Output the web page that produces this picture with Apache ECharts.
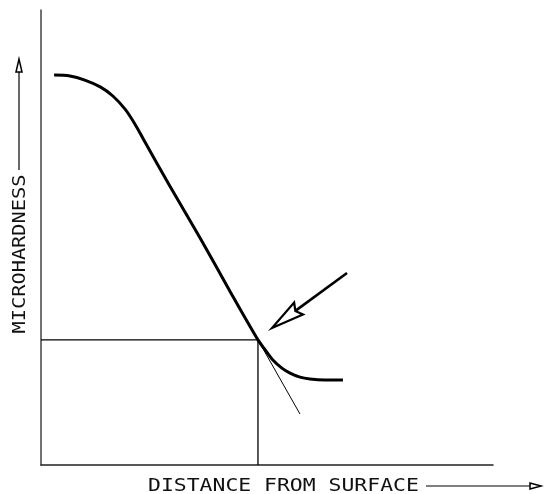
<!DOCTYPE html>
<html><head><meta charset="utf-8">
<script src="https://cdn.jsdelivr.net/npm/echarts@6/dist/echarts.min.js"></script>
<style>html,body{margin:0;padding:0;background:#fff}#c{width:544px;height:494px}</style>
</head><body><div id="c"></div>
<script>
// Hardness profile (arbitrary units, 0-100 on each axis)
const curveX = [2.9, 6.4, 9.7, 13.1, 15.9, 18.6, 20.8, 22.6, 28.5, 35.2, 41.8, 48.0, 49.6, 51.3, 53.3, 55.1, 57.3, 59.5, 62.8, 66.8];
const curveY = [85.7, 85.5, 84.6, 83.1, 81.1, 78.2, 74.9, 71.7, 61.3, 49.9, 38.2, 27.5, 25.3, 23.1, 21.3, 20.2, 19.3, 18.9, 18.7, 18.7];
// Tangent extension of the linear part
const tangentX = [48.0, 57.3];
const tangentY = [27.5, 11.2];
// Marked point (case depth)
const markX = 48.0;
const markY = 27.5;
// Pointer arrow: start and tip
const arrowX = [67.7, 51.1];
const arrowY = [42.2, 30.1];
const xName = 'DISTANCE FROM SURFACE';
const yName = 'MICROHARDNESS';

const chart = echarts.init(document.getElementById('c'));
const pts = (xs, ys) => xs.map((x, i) => [x, ys[i]]);
const FONT = '"DejaVu Sans Mono", monospace';

chart.setOption({
  animation: false,
  backgroundColor: '#fff',
  grid: {left: 41, top: 10, width: 452, height: 455},
  xAxis: {type: 'value', min: 0, max: 100, axisLine: {show: true, onZero: false, lineStyle: {color: '#222', width: 1.5}},
          axisTick: {show: false}, axisLabel: {show: false}, splitLine: {show: false}},
  yAxis: {type: 'value', min: 0, max: 100, axisLine: {show: true, onZero: false, lineStyle: {color: '#444', width: 1.5}},
          axisTick: {show: false}, axisLabel: {show: false}, splitLine: {show: false}},
  series: [
    {type: 'line', data: pts(curveX, curveY), smooth: 0.3, showSymbol: false,
     lineStyle: {color: '#000', width: 3}},
    {type: 'line', data: pts(tangentX, tangentY), showSymbol: false,
     lineStyle: {color: '#000', width: 1}},
    {type: 'line', data: [[0, markY], [markX, markY]], showSymbol: false,
     lineStyle: {color: '#000', width: 1.3}},
    {type: 'line', data: [[markX, 0], [markX, markY]], showSymbol: false,
     lineStyle: {color: '#000', width: 1.3}},
    {type: 'custom', data: [[arrowX[0], arrowY[0], arrowX[1], arrowY[1]]],
     renderItem: function (params, api) {
       const s = api.coord([api.value(0), api.value(1)]);
       const t = api.coord([api.value(2), api.value(3)]);
       const dx = s[0] - t[0], dy = s[1] - t[1];
       const L = Math.sqrt(dx * dx + dy * dy);
       const ux = dx / L, uy = dy / L;
       const px = -uy, py = ux;
       const hl = 33, hw = 7.5;
       const b = [t[0] + ux * hl, t[1] + uy * hl];
       const n = [t[0] + ux * (hl - 4), t[1] + uy * (hl - 4)];
       return {type: 'group', children: [
         {type: 'line', shape: {x1: s[0], y1: s[1], x2: n[0], y2: n[1]}, style: {stroke: '#000', lineWidth: 2.6}},
         {type: 'polygon', shape: {points: [t, [b[0] + px * hw, b[1] + py * hw], n, [b[0] - px * hw, b[1] - py * hw]]},
          style: {fill: '#fff', stroke: '#000', lineWidth: 2.2, lineJoin: 'miter'}}
       ]};
     }}
  ],
  graphic: [
    {type: 'text', x: 148, y: 486, scaleX: 1.19,
     style: {text: xName, font: '18px ' + FONT, fill: '#111', textVerticalAlign: 'middle', textAlign: 'left'}},
    {type: 'line', shape: {x1: 426, y1: 486, x2: 532, y2: 486}, style: {stroke: '#000', lineWidth: 1.2}},
    {type: 'polygon', shape: {points: [[541, 486], [530, 483], [530, 489]]}, style: {fill: '#fff', stroke: '#000', lineWidth: 1.5}},
    {type: 'text', x: 20, y: 254, rotation: Math.PI / 2, scaleX: 1.13,
     style: {text: yName, font: '18px ' + FONT, fill: '#111', textVerticalAlign: 'middle', textAlign: 'center'}},
    {type: 'line', shape: {x1: 19, y1: 170, x2: 19, y2: 70}, style: {stroke: '#000', lineWidth: 1.2}},
    {type: 'polygon', shape: {points: [[19, 59], [16, 72], [22, 72]]}, style: {fill: '#fff', stroke: '#000', lineWidth: 1.5}}
  ]
});
</script></body></html>
